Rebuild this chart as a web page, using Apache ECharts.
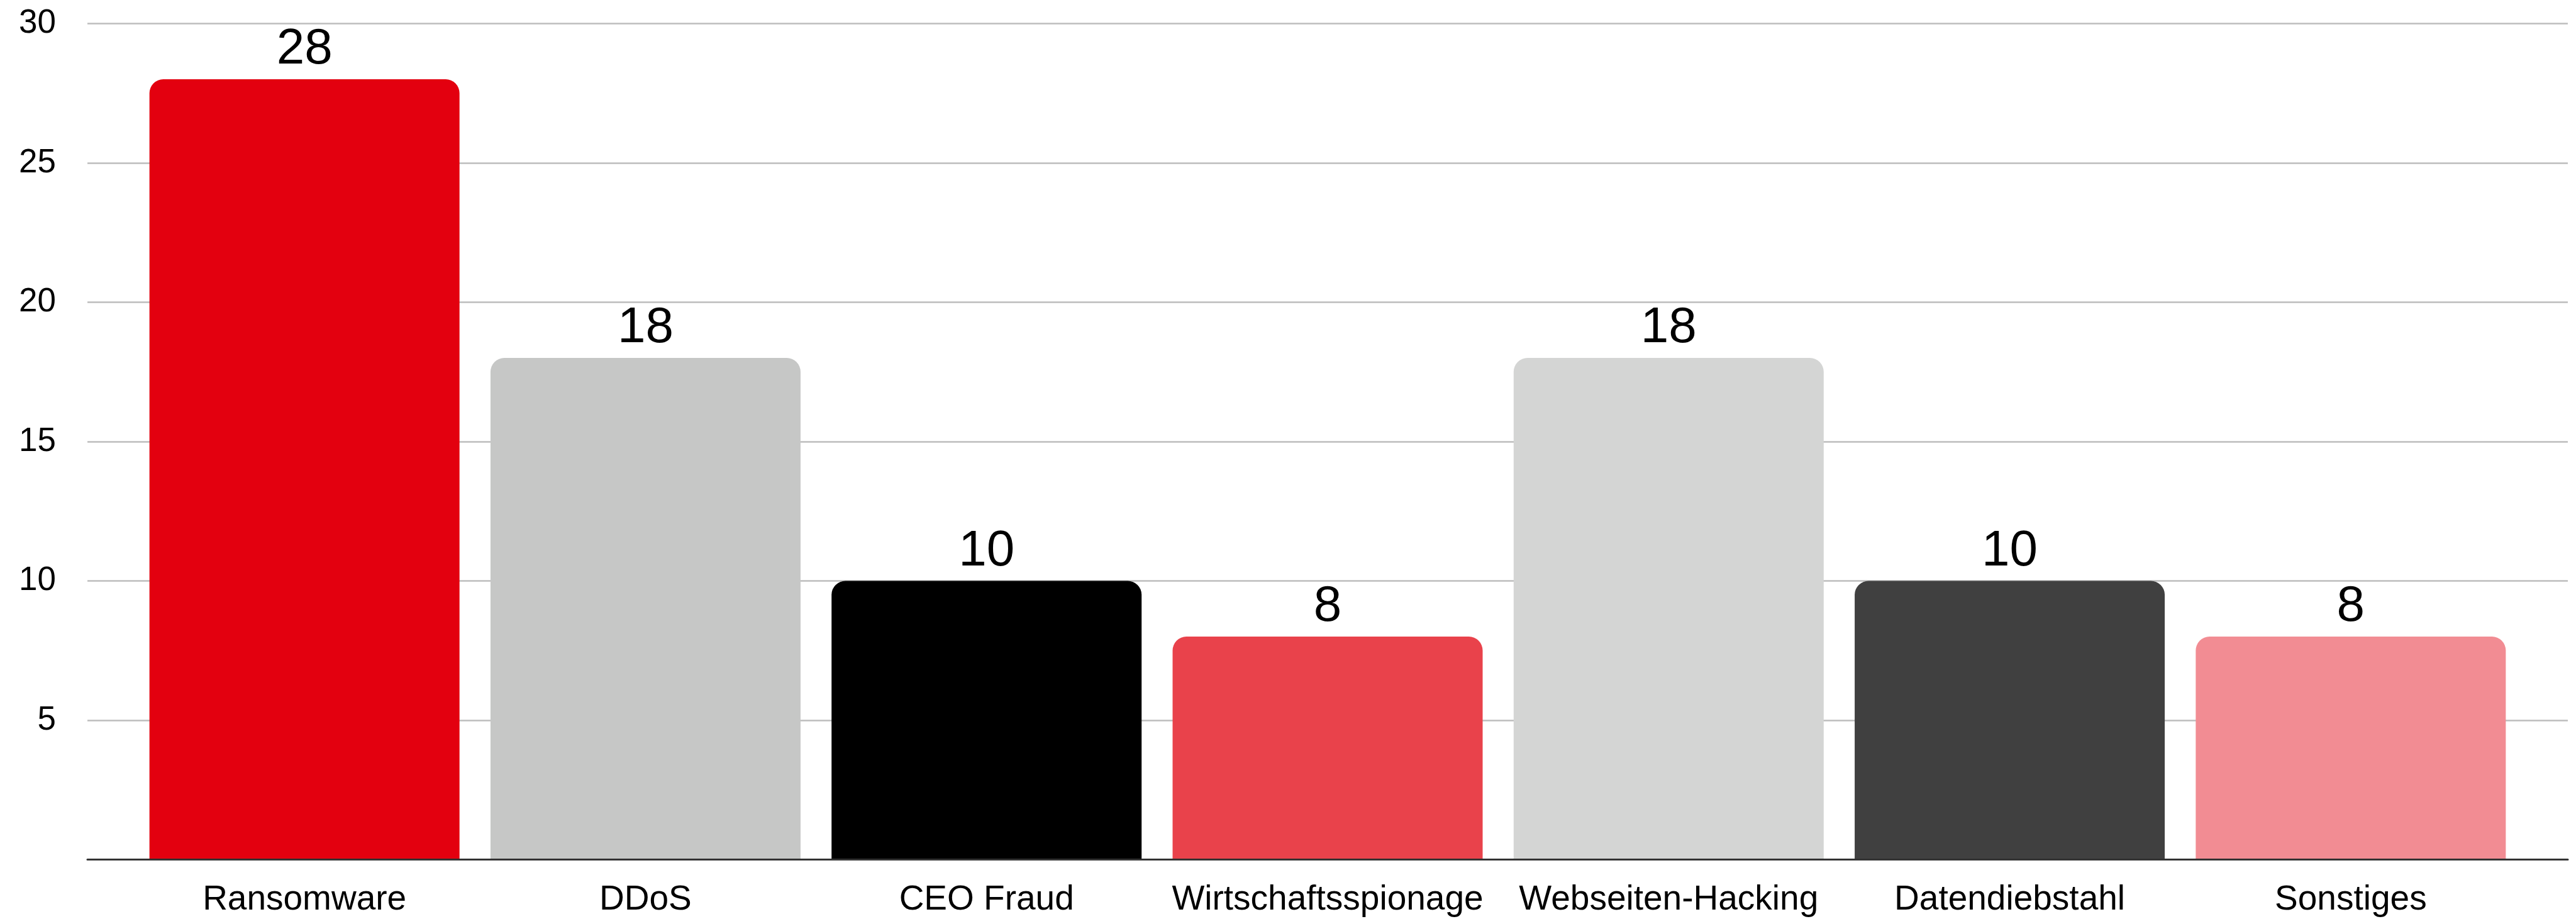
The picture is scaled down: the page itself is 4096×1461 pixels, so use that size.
<!DOCTYPE html>
<html>
<head>
<meta charset="utf-8">
<script src="https://cdn.jsdelivr.net/npm/echarts@6/dist/echarts.min.js"></script>
<style>
  html, body { margin: 0; padding: 0; background: #fff; }
  #chart { width: 4096px; height: 1461px; }
</style>
</head>
<body>
<div id="chart"></div>
<script>
// data
var categories = ['Ransomware', 'DDoS', 'CEO Fraud', 'Wirtschaftsspionage', 'Webseiten-Hacking', 'Datendiebstahl', 'Sonstiges'];
var values = [28, 18, 10, 8, 18, 10, 8];
var barColors = ['#E3000F', '#C6C7C6', '#000000', '#E9424B', '#D4D5D4', '#404040', '#F28C93'];
var yTicks = [0, 5, 10, 15, 20, 25, 30];

var font = '"Liberation Sans", Arial, sans-serif';
var chart = echarts.init(document.getElementById('chart'));

chart.setOption({
  animation: false,
  grid: [
    // background grid: gridlines + baseline, wider than the bars
    { left: 139, right: 13, top: 37.5, bottom: 94.5 },
    // bars
    { left: 213, right: 87, top: 37.5, bottom: 94.5 }
  ],
  xAxis: [{
    gridIndex: 0,
    type: 'value',
    min: 0,
    max: 1,
    axisLine: { show: true, lineStyle: { color: '#333', width: 3 } },
    axisTick: { show: false },
    axisLabel: { show: false },
    splitLine: { show: false },
    z: 5
  }, {
    gridIndex: 1,
    type: 'category',
    data: categories,
    axisLine: { show: false },
    axisTick: { show: false },
    axisLabel: {
      interval: 0,
      margin: 37,
      color: '#000',
      fontFamily: font,
      fontSize: 55
    }
  }],
  yAxis: [{
    gridIndex: 0,
    type: 'value',
    min: yTicks[0],
    max: yTicks[yTicks.length - 1],
    interval: 5,
    axisLine: { show: false },
    axisTick: { show: false },
    axisLabel: {
      margin: 50,
      color: '#000',
      fontFamily: font,
      fontSize: 53,
      showMinLabel: false
    },
    splitLine: { show: true, lineStyle: { color: '#BDBDBD', width: 2.5 } }
  }, {
    gridIndex: 1,
    type: 'value',
    min: yTicks[0],
    max: yTicks[yTicks.length - 1],
    show: false
  }],
  series: [{
    type: 'bar',
    xAxisIndex: 1,
    yAxisIndex: 1,
    barWidth: 493,
    data: values.map(function (v, i) {
      return { value: v, itemStyle: { color: barColors[i] } };
    }),
    itemStyle: { borderRadius: [22, 22, 0, 0] },
    label: {
      show: true,
      position: 'top',
      distance: 7,
      color: '#000',
      fontFamily: font,
      fontSize: 80
    }
  }]
});
</script>
</body>
</html>
